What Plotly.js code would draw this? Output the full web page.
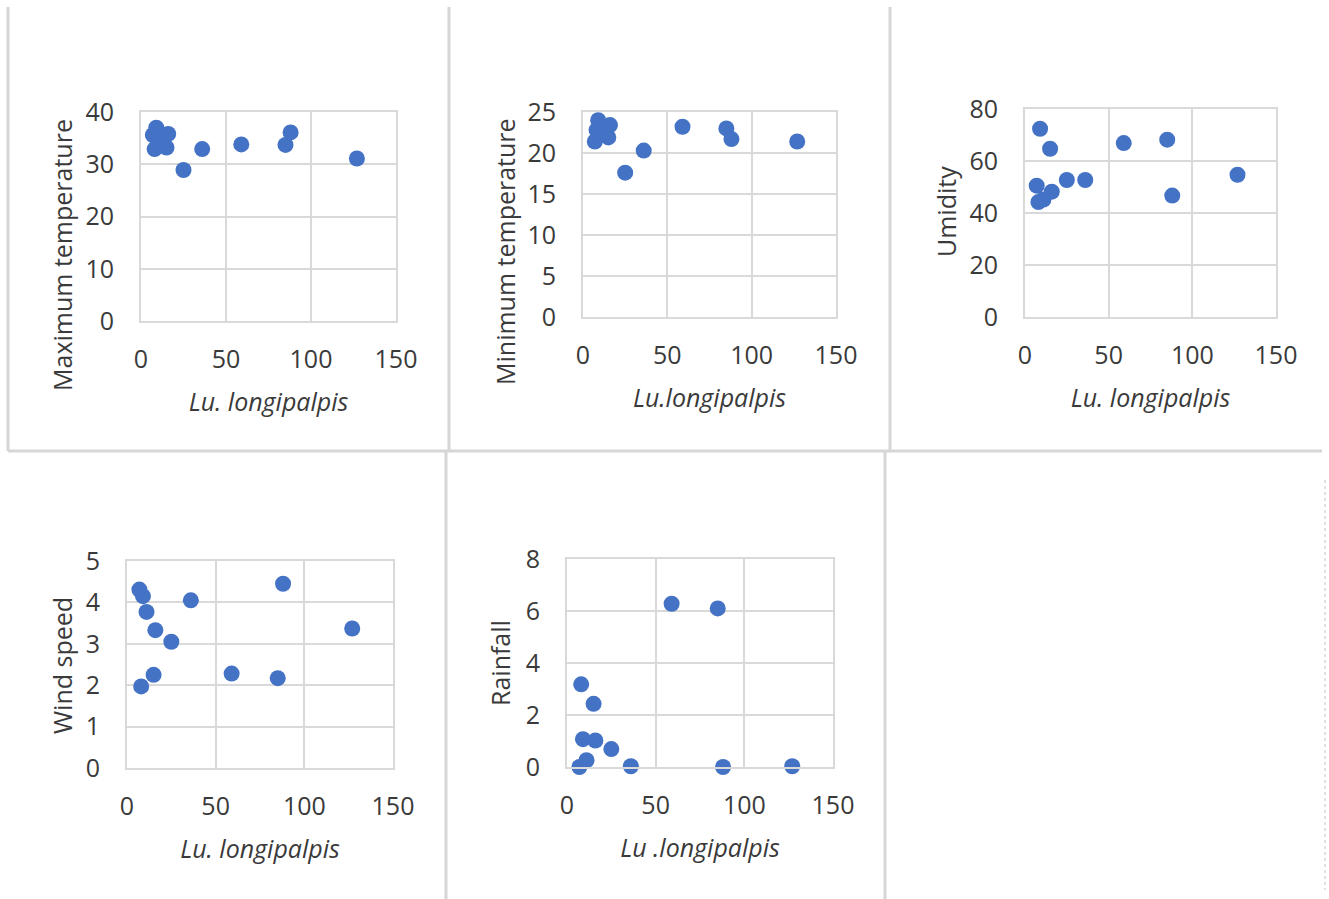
<!DOCTYPE html>
<html>
<head>
<meta charset="utf-8">
<script src="https://cdn.plot.ly/plotly-3.0.1.min.js"></script>
<style>
html,body{margin:0;padding:0;background:#fff;}
#chart{width:1329px;height:899px;}
</style>
</head>
<body>
<div id="chart"></div>
<script>
// Shared x values: Lu. longipalpis counts
const luLongipalpis = [7, 8, 9, 11, 15, 16, 25, 36, 59, 85, 88, 127];
// Per-panel y values
const maxTemperature = [35.6, 32.9, 37.0, 35.0, 33.2, 35.8, 28.9, 32.9, 33.8, 33.7, 36.1, 31.1];
const minTemperature = [21.4, 22.8, 24.0, 22.6, 21.9, 23.4, 17.6, 20.3, 23.2, 23.0, 21.7, 21.4];
const umidity = [50.5, 44.2, 72.4, 45.2, 64.7, 48.2, 52.7, 52.7, 66.9, 68.2, 46.7, 54.7];
const windSpeed = [4.31, 1.97, 4.15, 3.77, 2.25, 3.33, 3.05, 4.05, 2.28, 2.17, 4.45, 3.37];
const rainfall = [0, 3.18, 1.07, 0.26, 2.43, 1.02, 0.69, 0.03, 6.28, 6.10, 0, 0.03];

const yTitles = ["Maximum temperature", "Minimum temperature", "Umidity", "Wind speed", "Rainfall"];
const xTitles = ["Lu. longipalpis", "Lu.longipalpis", "Lu. longipalpis", "Lu. longipalpis", "Lu .longipalpis"];
const yRanges = [[0, 40], [0, 25], [0, 80], [0, 5], [0, 8]];
const yDticks = [10, 5, 20, 1, 2];
const xTicks = [0, 50, 100, 150];

const W = 1329, H = 899;
// plot-area boxes in pixels [left, right, top, bottom]
const boxes = [
  [141, 396, 112, 321],
  [583, 836, 112, 317],
  [1025, 1276, 109, 317],
  [127, 393, 561, 768],
  [567, 833, 559, 767]
];
const yTitleX = [62, 505, 946, 62, 500];
const yTitleY = [255, 252, 212, 666, 663];

const FONT = 'Open Sans, Liberation Sans, sans-serif';
const TXT = '#3a3a3a';
const GRID = '#d9d9d9';

const series = [maxTemperature, minTemperature, umidity, windSpeed, rainfall];
const data = [];
const layout = {
  width: W, height: H,
  margin: {l: 0, r: 0, t: 0, b: 0},
  paper_bgcolor: '#fff', plot_bgcolor: '#fff',
  showlegend: false,
  font: {family: FONT, color: TXT},
  annotations: [],
  shapes: []
};

series.forEach((ys, i) => {
  const n = i + 1;
  const sx = n === 1 ? '' : String(n);
  const b = boxes[i];
  data.push({
    type: 'scatter', mode: 'markers',
    x: luLongipalpis, y: ys,
    xaxis: 'x' + sx, yaxis: 'y' + sx,
    cliponaxis: false,
    marker: {size: 16, color: '#4472C4', line: {width: 0}},
    hoverinfo: 'x+y'
  });
  layout['xaxis' + sx] = {
    domain: [b[0] / W, b[1] / W],
    anchor: 'y' + sx,
    range: [0, 150],
    tickvals: xTicks,
    showgrid: true, gridcolor: GRID, gridwidth: 2,
    showline: true, linecolor: GRID, linewidth: 2, mirror: true,
    zeroline: false, ticks: '',
    ticklabelstandoff: 15,
    tickfont: {family: FONT, size: 25, color: TXT},
    title: {text: '<i>' + xTitles[i] + '</i>', font: {family: FONT, size: 25, color: TXT}, standoff: 19},
    fixedrange: true
  };
  layout['yaxis' + sx] = {
    domain: [1 - b[3] / H, 1 - b[2] / H],
    anchor: 'x' + sx,
    range: yRanges[i],
    dtick: yDticks[i], tick0: 0,
    showgrid: true, gridcolor: GRID, gridwidth: 2,
    showline: true, linecolor: GRID, linewidth: 2, mirror: true,
    zeroline: false, ticks: '',
    ticklabelstandoff: 20,
    tickfont: {family: FONT, size: 25, color: TXT},
    fixedrange: true
  };
  layout.annotations.push({
    text: yTitles[i], textangle: -90,
    xref: 'paper', yref: 'paper',
    x: yTitleX[i] / W, y: 1 - yTitleY[i] / H,
    xanchor: 'center', yanchor: 'middle',
    showarrow: false,
    font: {family: FONT, size: 25, color: TXT}
  });
});

// panel frame lines
const frameLines = [
  [8, 7, 8, 451],
  [449, 7, 449, 451],
  [890, 7, 890, 451],
  [8, 451, 1322, 451],
  [446, 451, 446, 899],
  [885, 451, 885, 899]
];
frameLines.forEach(l => {
  layout.shapes.push({
    type: 'line', xref: 'paper', yref: 'paper',
    x0: l[0] / W, y0: 1 - l[1] / H, x1: l[2] / W, y1: 1 - l[3] / H,
    line: {color: '#d6d6d6', width: 3}
  });
});
layout.shapes.push({
  type: 'line', xref: 'paper', yref: 'paper',
  x0: 1325 / W, y0: 1 - 480 / H, x1: 1325 / W, y1: 1 - 890 / H,
  line: {color: '#e2e2e2', width: 2, dash: 'dot'}
});

Plotly.newPlot('chart', data, layout, {displayModeBar: false, staticPlot: true});
</script>
</body>
</html>
